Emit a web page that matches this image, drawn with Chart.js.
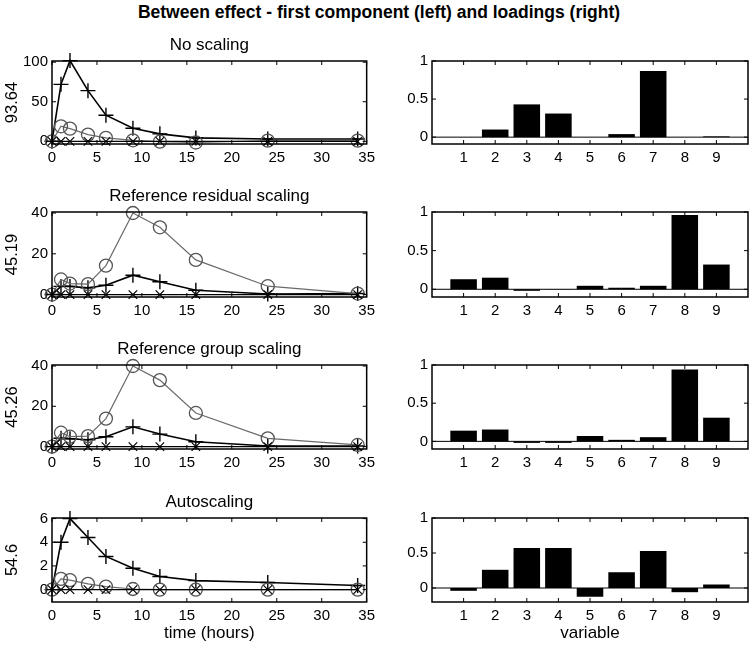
<!DOCTYPE html>
<html>
<head>
<meta charset="utf-8">
<script src="https://cdn.jsdelivr.net/npm/chart.js@4"></script>
<style>
  body { margin: 0; background: #fff; width: 750px; height: 646px; position: relative; overflow: hidden; }
  canvas { position: absolute; }
  #mainTitle { position: absolute; left: 0; top: 2px; width: 758px; text-align: center;
    font: bold 17.5px "Liberation Sans", Arial, sans-serif; color: #000; }
</style>
</head>
<body>
<div id="mainTitle">Between effect - first component (left) and loadings (right)</div>
<canvas id="l1"></canvas><canvas id="r1"></canvas>
<canvas id="l2"></canvas><canvas id="r2"></canvas>
<canvas id="l3"></canvas><canvas id="r3"></canvas>
<canvas id="l4"></canvas><canvas id="r4"></canvas>
<script>
// sampling times (hours)
const times = [0, 1, 2, 4, 6, 9, 12, 16, 24, 34];

// first component, one list per marker, per scaling
const noScalePlus   = [0, 72, 102, 64, 33, 16.6, 9.4, 4.3, 3, 3];
const noScaleCircle = [0, 19, 16, 8.5, 4.3, 1.3, -0.5, -1.5, 0.8, 0.8];
const noScaleCross  = [0, 0, 0, 0, 0, 0, 0, 0, 0, 0];

const refResPlus   = [0, 4, 4, 3.3, 4.6, 9.5, 6.3, 2.1, 0.3, 0.5];
const refResCircle = [0, 7.4, 5.4, 5.1, 14.2, 40, 33, 17, 4.1, 0.5];
const refResCross  = [0, 0, 0, 0, 0, 0, 0, 0, 0, 0];

const refGrpPlus   = [0, 4.1, 3.9, 3.4, 4.9, 9.8, 6.2, 2.4, 0.3, 0.3];
const refGrpCircle = [0, 6.9, 4.9, 5.2, 13.9, 40, 33, 16.7, 4.1, 0.8];
const refGrpCross  = [0, 0, 0, 0, 0, 0, 0, 0, 0, 0];

const autoPlus   = [0, 4, 6, 4.4, 2.8, 1.8, 1.1, 0.76, 0.6, 0.35];
const autoCircle = [0, 0.9, 0.8, 0.48, 0.25, 0.05, 0, 0, 0, 0];
const autoCross  = [0, 0, 0, 0, 0, 0, 0, 0, 0, 0];

// loadings per variable
const variables = [1, 2, 3, 4, 5, 6, 7, 8, 9];
const noScaleLoad = [0, 0.10, 0.43, 0.31, 0, 0.04, 0.87, 0, 0.01];
const refResLoad  = [0.13, 0.15, -0.02, 0.003, 0.045, 0.02, 0.045, 0.96, 0.32];
const refGrpLoad  = [0.14, 0.155, -0.02, -0.02, 0.07, 0.02, 0.055, 0.94, 0.31];
const autoLoad    = [-0.04, 0.26, 0.57, 0.57, -0.125, 0.225, 0.53, -0.06, 0.05];

const panelTitles = ["No scaling", "Reference residual scaling", "Reference group scaling", "Autoscaling"];
const ssLabels = ["93.64", "45.19", "45.26", "54.6"];
const timeTicks = [0, 5, 10, 15, 20, 25, 30, 35];
const leftTickSets = [[0, 50, 100], [0, 20, 40], [0, 20, 40], [0, 2, 4, 6]];
const leftRanges = [[-3.4, 101.5], [-1.2, 40.5], [-1.2, 40.5], [-1.05, 6.05]];
const loadTicks = [0, 0.5, 1];
const rightRanges = [[-0.09, 1], [-0.1, 1], [-0.1, 1], [-0.2, 1]];

const FONT = "'Liberation Sans', Arial, sans-serif";

// layout of each row: band on the page and the plotting box inside it
const rows = [
  { top: 22, bottom: 180, boxTop: 61, boxBottom: 144 },
  { top: 180, bottom: 330, boxTop: 212, boxBottom: 297 },
  { top: 330, bottom: 480, boxTop: 365, boxBottom: 449 },
  { top: 480, bottom: 646, boxTop: 518, boxBottom: 602 }
];
const cols = [
  { left: 0, right: 380, boxLeft: 52, boxRight: 368 },
  { left: 380, right: 750, boxLeft: 432, boxRight: 748 }
];

// MATLAB style box with inward ticks, panel title, optional zero baseline
const boxPlugin = {
  id: "matlabBox",
  afterDraw(chart, args, opts) {
    const { ctx, chartArea: a, scales } = chart;
    ctx.save();
    ctx.strokeStyle = "#000";
    ctx.lineWidth = 1;
    const len = 4;
    ctx.beginPath();
    scales.x.ticks.forEach(t => {
      const px = scales.x.getPixelForValue(t.value);
      ctx.moveTo(px, a.top); ctx.lineTo(px, a.top + len);
      ctx.moveTo(px, a.bottom); ctx.lineTo(px, a.bottom - len);
    });
    scales.y.ticks.forEach(t => {
      const py = scales.y.getPixelForValue(t.value);
      ctx.moveTo(a.left, py); ctx.lineTo(a.left + len, py);
      ctx.moveTo(a.right, py); ctx.lineTo(a.right - len, py);
    });
    if (opts.baseline) {
      const py = scales.y.getPixelForValue(0);
      ctx.moveTo(a.left, py); ctx.lineTo(a.right, py);
    }
    ctx.stroke();
    ctx.lineWidth = 1.5;
    ctx.strokeRect(a.left, a.top, a.right - a.left, a.bottom - a.top);
    if (opts.title) {
      ctx.fillStyle = "#000";
      ctx.font = "17px " + FONT;
      ctx.textAlign = "center";
      ctx.textBaseline = "middle";
      ctx.fillText(opts.title, (a.left + a.right) / 2, a.top - 16);
    }
    ctx.restore();
  }
};

function place(id, row, col, xAxisH) {
  const c = document.getElementById(id);
  const w = col.right - col.left, h = row.bottom - row.top;
  c.style.left = col.left + "px";
  c.style.top = row.top + "px";
  c.width = w; c.height = h;
  return {
    canvas: c,
    padding: {
      top: row.boxTop - row.top,
      bottom: row.bottom - row.boxBottom - xAxisH,
      left: 0,
      right: col.right - col.boxRight
    },
    yWidth: col.boxLeft - col.left
  };
}

function fixedTicks(list) {
  return scale => { scale.ticks = list.map(v => ({ value: v })); };
}

const plainLabel = v => String(v);

function lineSeries(label, data, style) {
  return Object.assign({
    label,
    data: times.map((t, i) => ({ x: t, y: data[i] })),
    fill: false,
    tension: 0,
    clip: false,
    pointBackgroundColor: "rgba(0,0,0,0)"
  }, style);
}

const charts = [];
const leftData = [
  [noScalePlus, noScaleCircle, noScaleCross],
  [refResPlus, refResCircle, refResCross],
  [refGrpPlus, refGrpCircle, refGrpCross],
  [autoPlus, autoCircle, autoCross]
];
const rightData = [noScaleLoad, refResLoad, refGrpLoad, autoLoad];

rows.forEach((row, r) => {
  const last = r === rows.length - 1;
  const xH = last ? 42 : 24;

  // left: first component over time
  const L = place("l" + (r + 1), row, cols[0], xH);
  charts.push(new Chart(L.canvas, {
    type: "line",
    data: {
      datasets: [
        lineSeries("cross", leftData[r][2], {
          borderColor: "#000", borderWidth: 1.2, pointStyle: "crossRot",
          pointRadius: 6, pointBorderColor: "#000", pointBorderWidth: 1.2
        }),
        lineSeries("circle", leftData[r][1], {
          borderColor: "#6a6a6a", borderWidth: 1.2, pointStyle: "circle",
          pointRadius: 6.5, pointBorderColor: "#555", pointBorderWidth: 1.3
        }),
        lineSeries("plus", leftData[r][0], {
          borderColor: "#000", borderWidth: 1.6, pointStyle: "cross",
          pointRadius: 7.5, pointBorderColor: "#000", pointBorderWidth: 1.4
        })
      ]
    },
    options: {
      responsive: false,
      animation: false,
      devicePixelRatio: 1,
      layout: { padding: L.padding },
      plugins: {
        legend: { display: false },
        tooltip: { enabled: false },
        title: { display: false },
        matlabBox: { baseline: false, title: panelTitles[r] }
      },
      scales: {
        x: {
          type: "linear", min: 0, max: 35,
          afterBuildTicks: fixedTicks(timeTicks),
          afterFit: s => { s.height = xH; },
          grid: { display: false, drawTicks: false },
          border: { display: false },
          ticks: { color: "#000", font: { family: FONT, size: 15 }, padding: 5, autoSkip: false, maxRotation: 0, callback: plainLabel },
          title: { display: last, text: "time (hours)", color: "#000",
            font: { family: FONT, size: 17 }, padding: { top: 0, bottom: 0 } }
        },
        y: {
          min: leftRanges[r][0], max: leftRanges[r][1],
          afterBuildTicks: fixedTicks(leftTickSets[r]),
          afterFit: s => { s.width = L.yWidth; },
          grid: { display: false, drawTicks: false },
          border: { display: false },
          ticks: { color: "#000", font: { family: FONT, size: 15 }, padding: 4, callback: plainLabel },
          title: { display: true, text: ssLabels[r], color: "#000",
            font: { family: FONT, size: 16.5 }, padding: { top: 3, bottom: 0 } }
        }
      }
    },
    plugins: [boxPlugin]
  }));

  // right: loadings per variable
  const R = place("r" + (r + 1), row, cols[1], xH);
  charts.push(new Chart(R.canvas, {
    type: "bar",
    data: {
      datasets: [{
        label: "loadings",
        data: variables.map((v, i) => ({ x: v, y: rightData[r][i] })),
        backgroundColor: "#000",
        borderColor: "#000",
        borderWidth: 0,
        barPercentage: 0.84,
        categoryPercentage: 1
      }]
    },
    options: {
      responsive: false,
      animation: false,
      devicePixelRatio: 1,
      layout: { padding: R.padding },
      plugins: {
        legend: { display: false },
        tooltip: { enabled: false },
        title: { display: false },
        matlabBox: { baseline: true }
      },
      scales: {
        x: {
          type: "linear", min: 0, max: 10, offset: false,
          afterBuildTicks: fixedTicks(variables),
          afterFit: s => { s.height = xH; },
          grid: { display: false, drawTicks: false },
          border: { display: false },
          ticks: { color: "#000", font: { family: FONT, size: 15 }, padding: 5, autoSkip: false, maxRotation: 0, callback: plainLabel },
          title: { display: last, text: "variable", color: "#000",
            font: { family: FONT, size: 17 }, padding: { top: 0, bottom: 0 } }
        },
        y: {
          min: rightRanges[r][0], max: rightRanges[r][1],
          afterBuildTicks: fixedTicks(loadTicks),
          afterFit: s => { s.width = R.yWidth; },
          grid: { display: false, drawTicks: false },
          border: { display: false },
          ticks: { color: "#000", font: { family: FONT, size: 15 }, padding: 4, callback: plainLabel }
        }
      }
    },
    plugins: [boxPlugin]
  }));
});
</script>
</body>
</html>
